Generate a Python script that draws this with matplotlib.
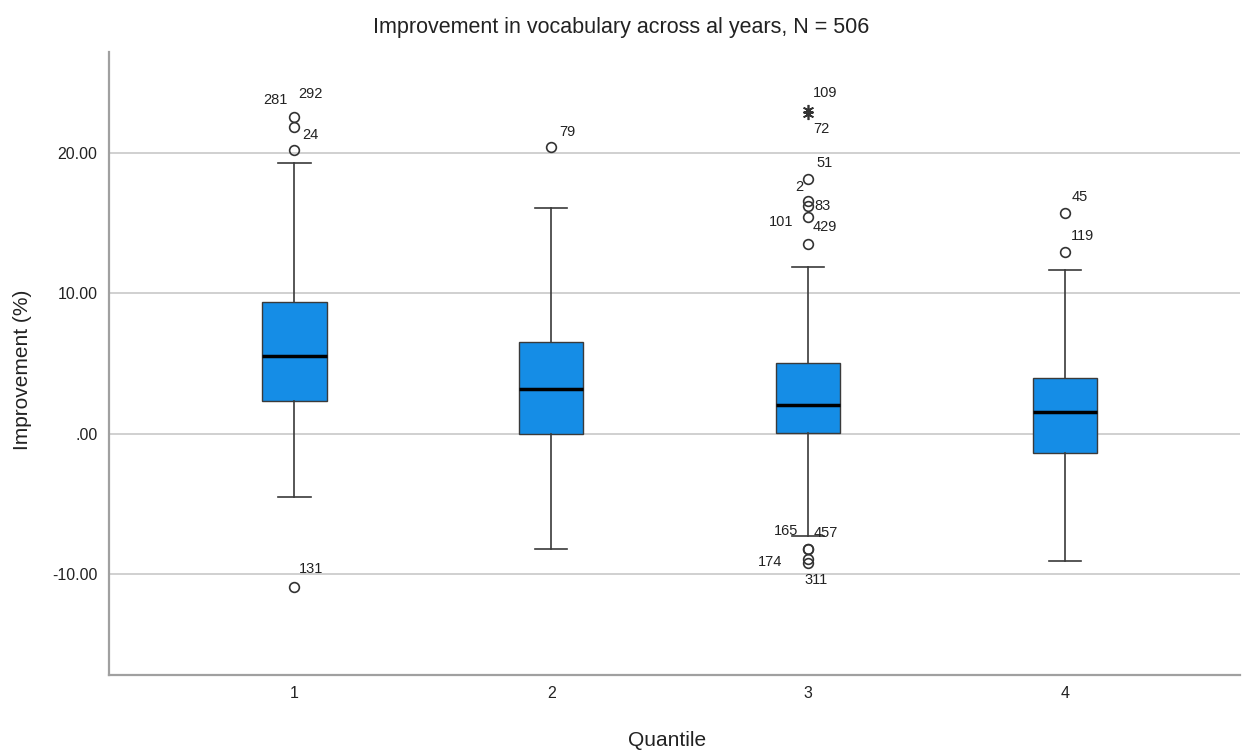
import numpy as np
import matplotlib
matplotlib.use("Agg")
import matplotlib.pyplot as plt

plt.rcParams['font.family'] = ['Liberation Sans', 'DejaVu Sans']

# box summary per quantile
quantiles = [1, 2, 3, 4]
q1 = [2.34, 0.0, 0.04, -1.39]
med = [5.53, 3.17, 2.03, 1.53]
q3 = [9.40, 6.53, 5.03, 3.96]
whislo = [-4.53, -8.24, -7.31, -9.10]
whishi = [19.30, 16.08, 11.88, 11.66]

# outliers (circles): quantile, value, case label
out_q = [1, 1, 1, 1, 2, 3, 3, 3, 3, 3, 3, 3, 3, 3, 4, 4]
out_val = [22.57, 21.86, 20.20, -10.90, 20.40, 18.15, 16.58, 16.22, 15.44, 13.51,
           -8.24, -8.24, -8.95, -9.24, 15.73, 12.94]
out_lab = ['281', '292', '24', '131', '79', '51', '2', '83', '101', '429',
           '165', '457', '174', '311', '45', '119']

# extremes (asterisks)
ext_q = [3, 3]
ext_val = [23.07, 22.80]
ext_lab = ['109', '72']

# label offsets in pixels (dx, dy), dy positive = up
out_off = [(-19, 17), (16, 33), (16, 15), (17, 18), (16, 15), (16, 16), (-9, 14),
           (14, 0), (-27, -5), (17, 17), (-22, 18), (18, 16), (-38, -3), (8, -17),
           (15, 16), (18, 16)]
ext_off = [(17, 17), (13, -15)]

fig = plt.figure(figsize=(12.42, 7.51), dpi=100)
ax = fig.add_axes([0.0874, 0.1012, 0.9106, 0.8296])

stats = []
for i in range(len(quantiles)):
    stats.append(dict(med=med[i], q1=q1[i], q3=q3[i], whislo=whislo[i],
                      whishi=whishi[i], fliers=[]))

ax.bxp(stats, positions=quantiles, widths=0.25, patch_artist=True, showfliers=False,
       boxprops=dict(facecolor='#158de6', edgecolor='#3a3a3a', linewidth=1.0),
       medianprops=dict(color='black', linewidth=2.5),
       whiskerprops=dict(color='#3a3a3a', linewidth=1.2),
       capprops=dict(color='#3a3a3a', linewidth=1.2), capwidths=0.125)

ax.plot(out_q, out_val, linestyle='none', marker='o', markersize=7,
        markerfacecolor='none', markeredgecolor='#333333', markeredgewidth=1.2)
ax.plot(ext_q, ext_val, linestyle='none', marker=(6, 2, 0), markersize=8,
        color='#333333', markeredgewidth=1.2)

for x, y, lab, off in zip(out_q, out_val, out_lab, out_off):
    ax.annotate(lab, (x, y), xytext=off, textcoords='offset pixels',
                ha='center', va='center', fontsize=10.5, color='#222222')
for x, y, lab, off in zip(ext_q, ext_val, ext_lab, ext_off):
    ax.annotate(lab, (x, y), xytext=off, textcoords='offset pixels',
                ha='center', va='center', fontsize=10.5, color='#222222')

ax.set_xlim(0.276, 4.68)
ax.set_ylim(-17.2, 27.2)
ax.set_xticks(quantiles)
ax.set_xticklabels([str(q) for q in quantiles])
ax.set_yticks([-10, 0, 10, 20])
ax.set_yticklabels(['-10.00', '.00', '10.00', '20.00'])
ax.tick_params(length=0, labelsize=11.5, colors='#222222', pad=8)
ax.yaxis.grid(True, color='#c8c8c8', linewidth=1.2)
ax.set_axisbelow(True)

for s in ['top', 'right']:
    ax.spines[s].set_visible(False)
for s in ['left', 'bottom']:
    ax.spines[s].set_color('#a0a0a0')
    ax.spines[s].set_linewidth(1.6)

fig.text(0.5, 1 - 27 / 751, 'Improvement in vocabulary across al years, N = 506',
         fontsize=15.5, color='#222222', ha='center', va='center')
ax.set_xlabel('Quantile', fontsize=15, color='#222222')
ax.xaxis.set_label_coords(0.494, -0.09)
ax.set_ylabel('Improvement (%)', fontsize=15, color='#222222')
ax.yaxis.set_label_coords(-0.0676, 0.4896)

fig.savefig('out.png', dpi=100)
